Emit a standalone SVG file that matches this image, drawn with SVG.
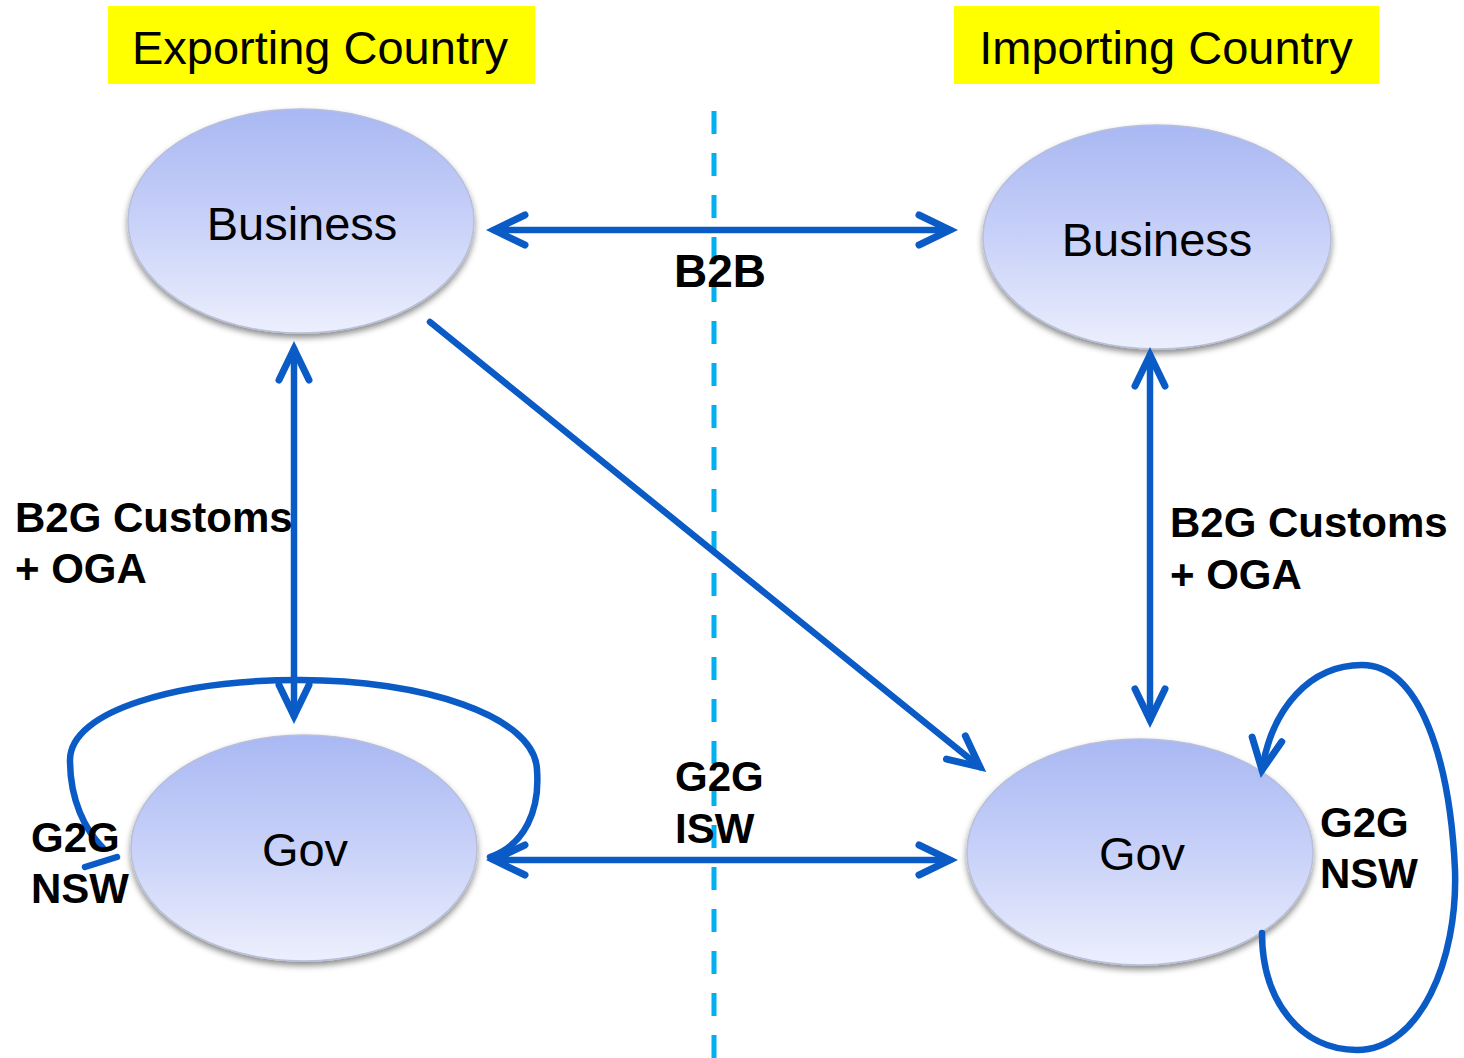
<svg xmlns="http://www.w3.org/2000/svg" width="1464" height="1058" viewBox="0 0 1464 1058">
<defs>
<linearGradient id="g" x1="0" y1="0" x2="0" y2="1">
<stop offset="0" stop-color="#a9b8f3"/>
<stop offset="0.5" stop-color="#c8d1f8"/>
<stop offset="1" stop-color="#eceffd"/>
</linearGradient>
<filter id="sh" x="-10%" y="-10%" width="120%" height="130%">
<feDropShadow dx="0" dy="4" stdDeviation="3" flood-color="#000" flood-opacity="0.45"/>
</filter>
<marker id="ah" markerUnits="userSpaceOnUse" markerWidth="50" markerHeight="50" viewBox="-40 -25 50 50" refX="0" refY="0" orient="auto-start-reverse">
<path d="M -31 -15 L 0 0 L -31 15" fill="none" stroke="#0a5bc6" stroke-width="7" stroke-linecap="round" stroke-linejoin="miter"/>
</marker>
</defs>
<style>
.node{fill:url(#g);stroke:#b8bfd8;stroke-width:1.5;filter:url(#sh)}
.nt{font-family:"Liberation Sans",Arial,sans-serif;font-size:47px;fill:#000;text-anchor:middle}
.lb{font-family:"Liberation Sans",Arial,sans-serif;font-size:42px;font-weight:bold;fill:#000}
.big{font-size:46px}
.hd{font-family:"Liberation Sans",Arial,sans-serif;font-size:47px;fill:#000;text-anchor:middle}
.c{fill:none;stroke:#0a5bc6;stroke-width:6.5;stroke-linecap:round}
</style>
<rect width="1464" height="1058" fill="#fff"/>
<g id="hdr-export"><rect x="108" y="6" width="427" height="78" fill="#ffff00"/><text class="hd" x="320" y="64">Exporting Country</text></g>
<g id="hdr-import"><rect x="954" y="6" width="425" height="78" fill="#ffff00"/><text class="hd" x="1166" y="64">Importing Country</text></g>
<line id="border" x1="714" y1="111" x2="714" y2="1058" stroke="#00b0f0" stroke-width="5" stroke-dasharray="23 19"/>
<g id="exp-business"><ellipse class="node" cx="301" cy="221" rx="173" ry="112"/><text class="nt" x="302" y="240">Business</text></g>
<g id="imp-business"><ellipse class="node" cx="1157" cy="237" rx="174" ry="112"/><text class="nt" x="1157" y="256">Business</text></g>
<g id="exp-gov"><ellipse class="node" cx="304" cy="848" rx="173" ry="113"/><text class="nt" x="305" y="866">Gov</text></g>
<g id="imp-gov"><ellipse class="node" cx="1140" cy="852" rx="173" ry="113"/><text class="nt" x="1142" y="870">Gov</text></g>
<g id="connectors">
<line class="c" x1="494" y1="230" x2="950" y2="230" marker-start="url(#ah)" marker-end="url(#ah)"/>
<line class="c" x1="494" y1="860" x2="950" y2="860" marker-start="url(#ah)" marker-end="url(#ah)"/>
<line class="c" x1="294" y1="349" x2="294" y2="716" marker-start="url(#ah)" marker-end="url(#ah)"/>
<line class="c" x1="1150" y1="355" x2="1150" y2="720" marker-start="url(#ah)" marker-end="url(#ah)"/>
<line class="c" x1="430" y1="322" x2="980" y2="767" marker-end="url(#ah)"/>
<path class="c" d="M 490 857 C 525 845, 540 810, 537 770 C 535 715, 420 680, 300 680 C 180 680, 70 710, 70 760 C 70 800, 85 830, 103 848"/>
<line class="c" x1="85" y1="867" x2="117" y2="857"/>
<path class="c" d="M 1262 933 C 1262 1000, 1300 1050, 1357 1050 C 1420 1050, 1458 960, 1455 870 C 1450 760, 1420 665, 1362 665 C 1310 665, 1272 708, 1262 770" marker-end="url(#ah)"/>
</g>
<g id="labels">
<text class="lb big" x="674" y="287">B2B</text>
<text class="lb" x="15" y="532">B2G Customs</text>
<text class="lb" x="15" y="583">+ OGA</text>
<text class="lb" x="1170" y="537">B2G Customs</text>
<text class="lb" x="1170" y="589">+ OGA</text>
<text class="lb" x="675" y="791">G2G</text>
<text class="lb" x="675" y="843">ISW</text>
<text class="lb" x="31" y="852">G2G</text>
<text class="lb" x="31" y="903">NSW</text>
<text class="lb" x="1320" y="837">G2G</text>
<text class="lb" x="1320" y="888">NSW</text>
</g>
</svg>
